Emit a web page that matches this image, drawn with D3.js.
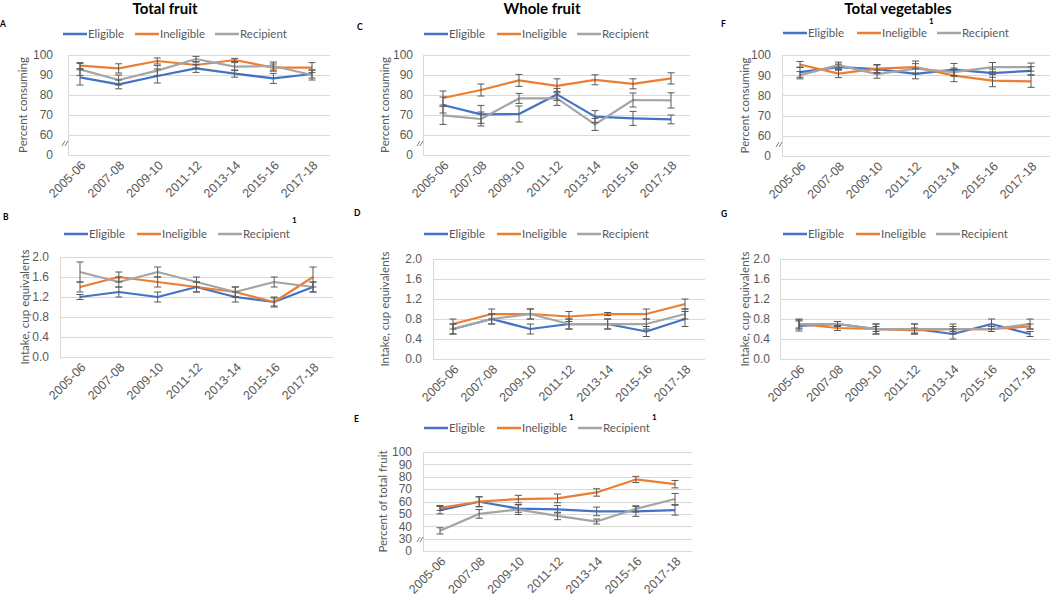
<!DOCTYPE html>
<html lang='en'>
<head>
<meta charset='utf-8'>
<title>Fruit and vegetables</title>
<script src='https://cdn.jsdelivr.net/npm/d3@7/dist/d3.min.js'></script>
<style>
  body { margin: 0; background: #fff; }
  svg { font-family: Lato, 'Open Sans', sans-serif; }
  .tick text, .ytitle, .leg text { fill: #595959; }
  .grid line { stroke: #d9d9d9; stroke-width: 1; }
  .err { stroke: #595959; stroke-width: 1; fill: none; }
</style>
</head>
<body>
<script>
var width = 1050, height = 594;

var years = ['2005-06','2007-08','2009-10','2011-12','2013-14','2015-16','2017-18'];
var groups = ['Eligible','Ineligible','Recipient'];
var colors = ['#4472c4','#ed7d31','#a5a5a5'];

// A: total fruit, percent consuming
var aEligible   = [88.8, 85.3, 89.5, 93.3, 90.7, 88.3, 90.5];
var aIneligible = [94.7, 93.3, 97.0, 95.0, 97.5, 93.7, 93.7];
var aRecipient  = [92.8, 87.5, 92.2, 98.0, 94.2, 94.5, 90.0];
var aErrE = [3.8, 2.2, 3.5, 2.0, 1.8, 2.5, 2.0];
var aErrI = [1.5, 2.3, 1.5, 1.5, 0.8, 1.8, 2.5];
var aErrR = [3.0, 2.5, 2.5, 1.3, 2.0, 2.0, 2.5];

// B: total fruit, intake
var bEligible   = [1.2, 1.3, 1.2, 1.4, 1.2, 1.1, 1.4];
var bIneligible = [1.4, 1.6, 1.5, 1.4, 1.3, 1.1, 1.6];
var bRecipient  = [1.7, 1.5, 1.7, 1.5, 1.3, 1.5, 1.4];
var bErrE = [0.05, 0.1, 0.1, 0.1, 0.1, 0.1, 0.1];
var bErrI = [0.1, 0.1, 0.1, 0.1, 0.1, 0.08, 0.2];
var bErrR = [0.2, 0.1, 0.1, 0.1, 0.1, 0.1, 0.1];

// C: whole fruit, percent consuming
var cEligible   = [75.0, 70.3, 70.5, 80.3, 69.2, 68.3, 67.8];
var cIneligible = [78.5, 82.5, 87.3, 84.6, 87.6, 85.6, 88.3];
var cRecipient  = [69.8, 68.0, 78.3, 78.3, 65.3, 77.5, 77.3];
var cErrE = [4.0, 4.5, 4.0, 3.0, 3.0, 3.5, 2.2];
var cErrI = [3.5, 3.0, 3.0, 3.5, 2.5, 2.5, 2.8];
var cErrR = [4.5, 3.5, 2.5, 3.5, 3.0, 3.5, 3.8];

// D: whole fruit, intake
var dEligible   = [0.6, 0.8, 0.6, 0.7, 0.7, 0.55, 0.8];
var dIneligible = [0.7, 0.9, 0.9, 0.85, 0.9, 0.9, 1.1];
var dRecipient  = [0.6, 0.8, 0.9, 0.7, 0.7, 0.7, 0.9];
var dErrE = [0.1, 0.1, 0.1, 0.1, 0.1, 0.1, 0.15];
var dErrI = [0.1, 0.1, 0.1, 0.1, 0.03, 0.1, 0.1];
var dErrR = [0.1, 0.1, 0.1, 0.1, 0.1, 0.1, 0.1];

// E: whole fruit, percent of total fruit
var eEligible   = [53.0, 59.8, 54.3, 53.7, 52.0, 52.0, 53.0];
var eIneligible = [54.8, 59.8, 62.0, 62.5, 67.3, 77.8, 74.0];
var eRecipient  = [36.3, 50.0, 53.5, 48.3, 43.8, 54.0, 62.0];
var eErrE = [3.0, 4.0, 3.0, 3.0, 3.5, 4.0, 4.0];
var eErrI = [2.0, 4.0, 3.0, 3.5, 3.0, 2.5, 3.0];
var eErrR = [2.5, 3.5, 4.0, 3.0, 2.0, 2.5, 4.5];

// F: total vegetables, percent consuming
var fEligible   = [91.5, 94.0, 93.0, 90.7, 92.8, 91.0, 92.2];
var fIneligible = [95.3, 90.8, 93.3, 94.0, 89.8, 87.3, 87.0];
var fRecipient  = [90.0, 95.0, 90.5, 93.2, 91.5, 94.0, 94.0];
var fErrE = [2.5, 1.5, 2.0, 2.5, 3.0, 2.0, 2.0];
var fErrI = [1.5, 2.0, 2.0, 3.0, 3.0, 3.0, 3.0];
var fErrR = [1.8, 1.5, 2.0, 2.5, 2.0, 2.3, 2.0];

// G: total vegetables, intake
var gEligible   = [0.66, 0.7, 0.6, 0.6, 0.5, 0.7, 0.5];
var gIneligible = [0.7, 0.62, 0.6, 0.57, 0.6, 0.6, 0.65];
var gRecipient  = [0.7, 0.7, 0.6, 0.6, 0.6, 0.6, 0.7];
var gErrE = [0.1, 0.05, 0.1, 0.1, 0.1, 0.1, 0.05];
var gErrI = [0.08, 0.05, 0.05, 0.05, 0.05, 0.05, 0.05];
var gErrR = [0.1, 0.05, 0.1, 0.1, 0.1, 0.05, 0.1];

var pctTicks = [0, 60, 70, 80, 90, 100];
var shareTicks = [0, 30, 40, 50, 60, 70, 80, 90, 100];
var intakeTicks = [0, 0.4, 0.8, 1.2, 1.6, 2.0];

var panels = [
  { letter: 'A', lx: 0, ly: 27, kind: 'pct', title: 'Total fruit', tx: 165,
    series: [aEligible, aIneligible, aRecipient], errs: [aErrE, aErrI, aErrR],
    gx: [68, 330], px: [80, 312], gy: [55, 155], labR: 53, ytx: 23, ytitle: 'Percent consuming',
    legY: 34, legX: [63, 135, 215], sup: [] },
  { letter: 'B', lx: 3, ly: 220, kind: 'intake',
    series: [bEligible, bIneligible, bRecipient], errs: [bErrE, bErrI, bErrR],
    gx: [60, 333], px: [80, 313], gy: [257, 357], labR: 49, ytx: 25, ytitle: 'Intake, cup equivalents',
    legY: 234, legX: [64, 137, 218], sup: [2], supDy: -11 },
  { letter: 'C', lx: 357, ly: 30, kind: 'pct', title: 'Whole fruit', tx: 542,
    series: [cEligible, cIneligible, cRecipient], errs: [cErrE, cErrI, cErrR],
    gx: [423, 690], px: [443, 671], gy: [55, 155], labR: 413, ytx: 385, ytitle: 'Percent consuming',
    legY: 34, legX: [424, 497, 577], sup: [] },
  { letter: 'D', lx: 354, ly: 216, kind: 'intake',
    series: [dEligible, dIneligible, dRecipient], errs: [dErrE, dErrI, dErrR],
    gx: [433, 705], px: [453, 685], gy: [259, 359], labR: 422, ytx: 385, ytitle: 'Intake, cup equivalents',
    legY: 234, legX: [424, 497, 577], sup: [] },
  { letter: 'E', lx: 354, ly: 422, kind: 'share',
    series: [eEligible, eIneligible, eRecipient], errs: [eErrE, eErrI, eErrR],
    gx: [423, 692], px: [440, 675], gy: [452, 551], labR: 412, ytx: 383, ytitle: 'Percent of total fruit',
    legY: 428, legX: [424, 497, 578], sup: [1, 2], supDy: -8 },
  { letter: 'F', lx: 721, ly: 27, kind: 'pct', title: 'Total vegetables', tx: 898,
    series: [fEligible, fIneligible, fRecipient], errs: [fErrE, fErrI, fErrR],
    gx: [782, 1050], px: [800, 1031], gy: [55, 156], labR: 771, ytx: 745, ytitle: 'Percent consuming',
    legY: 33, legX: [783, 857, 937], sup: [1], supDy: -9 },
  { letter: 'G', lx: 721, ly: 217, kind: 'intake',
    series: [gEligible, gIneligible, gRecipient], errs: [gErrE, gErrI, gErrR],
    gx: [780, 1050], px: [799, 1030], gy: [259, 359], labR: 770, ytx: 745, ytitle: 'Intake, cup equivalents',
    legY: 234, legX: [783, 856, 936], sup: [] }
];

var svg = d3.select('body').append('svg')
  .attr('width', width)
  .attr('height', height);

panels.forEach(function(p) {
  var g = svg.append('g');
  var top = p.gy[0], bot = p.gy[1], h = bot - top;

  var x = d3.scalePoint().domain(years).range(p.px);
  var y, ticks, fmt;
  if (p.kind == 'pct') {
    y = d3.scaleLinear().domain([0, 60, 100]).range([bot, bot - h / 5, top]);
    ticks = pctTicks; fmt = d3.format('d');
  } else if (p.kind == 'share') {
    y = d3.scaleLinear().domain([0, 30, 100]).range([bot, bot - h / 8, top]);
    ticks = shareTicks; fmt = d3.format('d');
  } else {
    y = d3.scaleLinear().domain([0, 2]).range([bot, top]);
    ticks = intakeTicks; fmt = d3.format('.1f');
  }

  // gridlines
  g.append('g').attr('class', 'grid')
    .selectAll('line').data(ticks).enter().append('line')
      .attr('x1', p.gx[0]).attr('x2', p.gx[1])
      .attr('y1', function(d) { return Math.round(y(d)) + 0.5; })
      .attr('y2', function(d) { return Math.round(y(d)) + 0.5; });
  g.append('line').attr('class', 'grid')
    .attr('x1', p.gx[0] + 0.5).attr('x2', p.gx[0] + 0.5)
    .attr('y1', top).attr('y2', bot)
    .style('stroke', '#d9d9d9');

  // y axis labels
  var yAxis = d3.axisLeft(y).tickValues(ticks).tickFormat(fmt).tickSize(0).tickPadding(0);
  var ya = g.append('g').attr('transform', 'translate(' + p.labR + ',0)').call(yAxis);
  ya.select('.domain').remove();
  ya.selectAll('text').style('font-size', '12px');

  // x axis labels, rotated
  var xAxis = d3.axisBottom(x).tickSize(0).tickPadding(0);
  var xa = g.append('g').attr('transform', 'translate(0,' + bot + ')').call(xAxis);
  xa.select('.domain').remove();
  xa.selectAll('text')
    .style('font-size', '12.5px')
    .attr('text-anchor', 'end')
    .attr('dy', null)
    .attr('y', 0)
    .attr('transform', 'translate(6,11) rotate(-45)');

  // axis break mark
  if (p.kind != 'intake') {
    var by = bot - 11;
    [-2, 1].forEach(function(o) {
      g.append('line')
        .attr('x1', p.gx[0] - 4 + o).attr('y1', by + 2)
        .attr('x2', p.gx[0] - 1 + o).attr('y2', by - 3)
        .style('stroke', '#595959').style('stroke-width', 0.8);
    });
  }

  // y title
  g.append('text').attr('class', 'ytitle')
    .attr('transform', 'translate(' + p.ytx + ',' + ((top + bot) / 2) + ') rotate(-90)')
    .attr('text-anchor', 'middle')
    .attr('dy', '0.35em')
    .style('font-size', '11.5px')
    .text(p.ytitle);

  // lines
  var line = d3.line()
    .x(function(d, i) { return x(years[i]); })
    .y(function(d) { return y(d); });
  p.series.forEach(function(s, k) {
    g.append('path')
      .attr('d', line(s))
      .attr('fill', 'none')
      .attr('stroke', colors[k])
      .attr('stroke-width', 2.25)
      .attr('stroke-linejoin', 'round');
  });

  // error bars
  p.series.forEach(function(s, k) {
    var e = p.errs[k];
    var eb = g.append('g').attr('class', 'err');
    s.forEach(function(v, i) {
      var cx = x(years[i]);
      var y0 = y(v - e[i]), y1 = y(v + e[i]);
      eb.append('path')
        .attr('d', 'M' + cx + ',' + y0 + 'L' + cx + ',' + y1 +
                   'M' + (cx - 3.5) + ',' + y0 + 'L' + (cx + 3.5) + ',' + y0 +
                   'M' + (cx - 3.5) + ',' + y1 + 'L' + (cx + 3.5) + ',' + y1);
    });
  });

  // legend
  var leg = g.append('g').attr('class', 'leg');
  groups.forEach(function(name, k) {
    var lx = p.legX[k];
    leg.append('line')
      .attr('x1', lx).attr('x2', lx + 24)
      .attr('y1', p.legY).attr('y2', p.legY)
      .attr('stroke', colors[k]).attr('stroke-width', 2.5);
    var t = leg.append('text')
      .attr('x', lx + 25).attr('y', p.legY)
      .attr('dy', '0.35em')
      .style('font-size', '11.5px')
      .text(name);
    if (p.sup.indexOf(k) >= 0) {
      var w = t.node().getComputedTextLength();
      leg.append('text')
        .attr('x', lx + 27 + w).attr('y', p.legY + p.supDy)
        .style('font-size', '8px')
        .style('font-weight', 'bold')
        .style('fill', '#000')
        .text('1');
    }
  });

  // panel letter and title
  g.append('text')
    .attr('x', p.lx).attr('y', p.ly)
    .style('font-size', '8.5px').style('font-weight', 'bold')
    .text(p.letter);
  if (p.title) {
    g.append('text')
      .attr('x', p.tx).attr('y', 14)
      .attr('text-anchor', 'middle')
      .style('font-size', '15px').style('font-weight', 'bold')
      .text(p.title);
  }
});
</script>
</body>
</html>
